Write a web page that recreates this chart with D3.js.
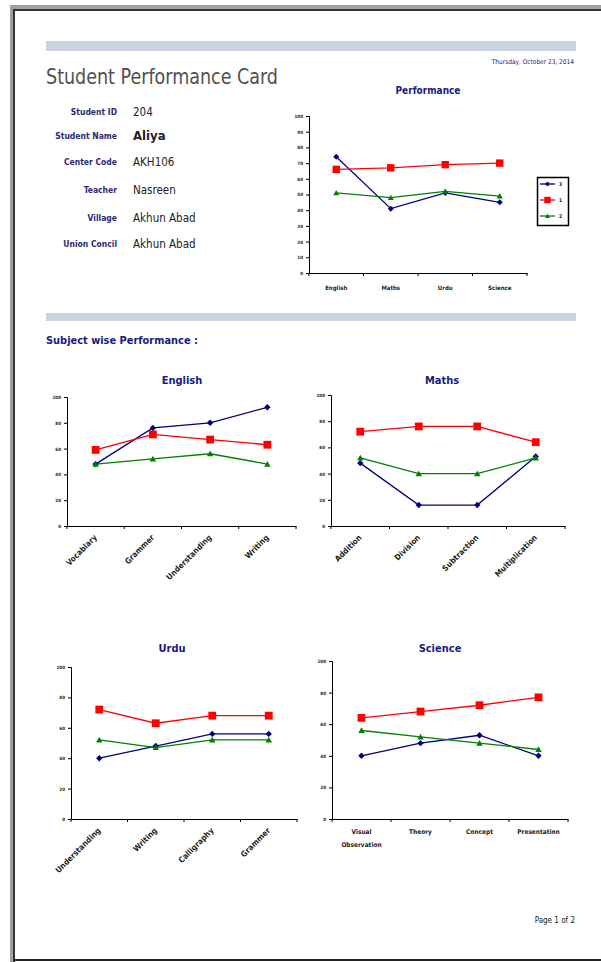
<!DOCTYPE html>
<html><head><meta charset="utf-8">
<script src="https://cdn.jsdelivr.net/npm/d3@7"></script>
<style>
html,body{margin:0;padding:0;background:#fff;}
svg{display:block;}
text{font-family:"DejaVu Sans Condensed","DejaVu Sans",sans-serif;}
</style></head>
<body>
<script>
// ---------- data ----------
const reportDate = "Thursday, October 23, 2014";
const reportTitle = "Student Performance Card";
const infoLabels = ["Student ID","Student Name","Center Code","Teacher","Village","Union Concil"];
const infoValues = ["204","Aliya","AKH106","Nasreen","Akhun Abad","Akhun Abad"];
const seriesNames = ["3","1","2"];
const seriesColors = ["#000080","#ff0000","#008000"];

const subjects = ["English","Maths","Urdu","Science"];
const overallBlue  = [74,41,51,45];
const overallRed   = [66,67,69,70];
const overallGreen = [51,48,52,49];

const englishSkills = ["Vocablary","Grammer","Understanding","Writing"];
const englishBlue  = [48,76,80,92];
const englishRed   = [59,71,67,63];
const englishGreen = [48,52,56,48];

const mathsSkills = ["Addition","Division","Subtraction","Multiplication"];
const mathsBlue  = [48,16,16,53];
const mathsRed   = [72,76,76,64];
const mathsGreen = [52,40,40,52];

const urduSkills = ["Understanding","Writing","Calligraphy","Grammer"];
const urduBlue  = [40,48,56,56];
const urduRed   = [72,63,68,68];
const urduGreen = [52,47,52,52];

const scienceSkills = ["Visual Observation","Theory","Concept","Presentation"];
const scienceBlue  = [40,48,53,40];
const scienceRed   = [64,68,72,77];
const scienceGreen = [56,52,48,44];

const ticksOverall = d3.range(0,101,10);
const ticksSubject = d3.range(0,101,20);

// ---------- page ----------
const W=601,H=962;
const svg=d3.select("body").append("svg").attr("width",W).attr("height",H);
const navy="#1a1a80";
// frame
svg.append("rect").attr("x",10).attr("y",5).attr("width",W-10).attr("height",4).attr("fill","#a0a0a0");
svg.append("rect").attr("x",10).attr("y",5).attr("width",4).attr("height",H-5).attr("fill","#a0a0a0");
svg.append("rect").attr("x",13).attr("y",9).attr("width",W-13).attr("height",2).attr("fill","#333");
svg.append("rect").attr("x",13).attr("y",9).attr("width",2).attr("height",H-9).attr("fill","#333");
svg.append("rect").attr("x",13).attr("y",959).attr("width",W-13).attr("height",2).attr("fill","#222");

// bands
[[41,10],[313,8]].forEach(([y,h])=>svg.append("rect").attr("x",46).attr("y",y).attr("width",530).attr("height",h).attr("fill","#cbd0e3"));

svg.append("text").attr("x",574).attr("y",64).attr("text-anchor","end").attr("font-size",6.5).attr("fill",navy).text(reportDate);
svg.append("text").attr("x",46).attr("y",84).attr("font-size",22).attr("fill","#505050")
  .attr("textLength",232).attr("lengthAdjust","spacingAndGlyphs").text(reportTitle);

const infoY=[115,139,165,193,221,247];
infoLabels.forEach((l,i)=>{
  svg.append("text").attr("x",117).attr("y",infoY[i]).attr("text-anchor","end").attr("font-size",8.5)
    .attr("font-weight","bold").attr("fill","#2a2a70").text(l);
  svg.append("text").attr("x",133).attr("y",infoY[i]+1).attr("font-size",i===1?13:11.5)
    .attr("font-weight",i===1?"bold":"normal").attr("fill","#222").text(infoValues[i]);
});

svg.append("text").attr("x",46).attr("y",344).attr("font-size",10.5).attr("font-weight","bold")
  .attr("fill",navy).attr("textLength",152).attr("lengthAdjust","spacingAndGlyphs").text("Subject wise Performance :");

svg.append("text").attr("x",575).attr("y",923).attr("text-anchor","end").attr("font-size",8).attr("fill","#222").text("Page 1 of 2");

// ---------- chart helper ----------
function markers(g,kind,pts,color,s){
  if(kind===0){ // diamond
    g.selectAll(null).data(pts).enter().append("path")
      .attr("d",d=>`M${d[0]},${d[1]-s}L${d[0]+s},${d[1]}L${d[0]},${d[1]+s}L${d[0]-s},${d[1]}Z`).attr("fill",color);
  } else if(kind===1){
    g.selectAll(null).data(pts).enter().append("rect")
      .attr("x",d=>d[0]-s).attr("y",d=>d[1]-s).attr("width",2*s).attr("height",2*s).attr("fill",color);
  } else {
    g.selectAll(null).data(pts).enter().append("path")
      .attr("d",d=>`M${d[0]},${d[1]-s}L${d[0]+s},${d[1]+s*0.8}L${d[0]-s},${d[1]+s*0.8}Z`).attr("fill",color);
  }
}

function drawChart(o){
  const g=svg.append("g");
  const x=d3.scaleBand().domain(o.cats).range([o.x0,o.x1]);
  const y=d3.scaleLinear().domain([0,100]).range([o.yB,o.yT]);
  g.append("text").attr("x",o.tx).attr("y",o.ty).attr("text-anchor","middle").attr("font-size",o.tfs)
    .attr("font-weight","bold").attr("fill",navy).text(o.title);
  // axes
  const ya=d3.axisLeft(y).tickValues(o.ticks).tickSize(3).tickFormat(d3.format("d"));
  const gy=g.append("g").attr("transform",`translate(${o.x0},0)`).call(ya);
  gy.selectAll("text").attr("font-size",o.yfs).attr("font-weight","bold").attr("fill","#222").attr("x",-6);
  gy.select(".domain").attr("stroke","#000");
  const xa=d3.axisBottom(x).tickSize(0).tickFormat("");
  const gx=g.append("g").attr("transform",`translate(0,${o.yB})`).call(xa);
  gx.select(".domain").attr("stroke","#000");
  const bnds=o.cats.map(c=>x(c)).concat([o.x1]);
  g.selectAll(null).data(bnds).enter().append("line").attr("x1",d=>d).attr("x2",d=>d)
    .attr("y1",o.yB).attr("y2",o.yB+3).attr("stroke","#000");
  // labels
  o.cats.forEach((c,i)=>{
    const cx=x(c)+x.bandwidth()/2;
    if(o.rot){
      g.append("text").attr("transform",`translate(${cx+2},${o.yB+12}) rotate(-45)`).attr("text-anchor","end")
        .attr("font-size",o.xfs).attr("font-weight","bold").attr("fill","#222").text(c);
    } else {
      const parts=c.split(" ");
      parts.forEach((p,j)=>g.append("text").attr("x",cx).attr("y",o.yB+o.xdy+j*13).attr("text-anchor","middle")
        .attr("font-size",o.xfs).attr("font-weight","bold").attr("fill","#222").text(p));
    }
  });
  // series
  o.series.forEach((vals,k)=>{
    const pts=vals.map((v,i)=>[x(o.cats[i])+x.bandwidth()/2,y(v)]);
    g.append("path").attr("d",d3.line()(pts)).attr("fill","none").attr("stroke",seriesColors[k]).attr("stroke-width",1.3);
  });
  o.series.forEach((vals,k)=>{
    const pts=vals.map((v,i)=>[x(o.cats[i])+x.bandwidth()/2,y(v)]);
    markers(g,k,pts,seriesColors[k],k===1?o.ms+0.7:o.ms);
  });
  return g;
}

// top chart
drawChart({cats:subjects,series:[overallBlue,overallRed,overallGreen],x0:309,x1:527,yT:116,yB:273,
  ticks:ticksOverall,title:"Performance",tx:428,ty:94,tfs:10,yfs:4.5,xfs:6,xdy:17,rot:false,ms:3});
// legend
const lg=svg.append("g");
lg.append("rect").attr("x",537.5).attr("y",177.5).attr("width",31).attr("height",48).attr("fill","#fff").attr("stroke","#000").attr("stroke-width",1.5);
seriesNames.forEach((n,k)=>{
  const ly=184+k*16;
  lg.append("line").attr("x1",540).attr("x2",555).attr("y1",ly).attr("y2",ly).attr("stroke",seriesColors[k]).attr("stroke-width",1.3);
  markers(lg,k,[[547.5,ly]],seriesColors[k],k===1?3.2:2.5);
  lg.append("text").attr("x",559).attr("y",ly+2).attr("font-size",5).attr("font-weight","bold").attr("fill","#222").text(n);
});

drawChart({cats:englishSkills,series:[englishBlue,englishRed,englishGreen],x0:67,x1:296,yT:397,yB:526,
  ticks:ticksSubject,title:"English",tx:182,ty:384,tfs:11,yfs:4.5,xfs:8,rot:true,ms:3.2});
drawChart({cats:mathsSkills,series:[mathsBlue,mathsRed,mathsGreen],x0:331,x1:565,yT:395,yB:526,
  ticks:ticksSubject,title:"Maths",tx:442,ty:384,tfs:11,yfs:4.5,xfs:8,rot:true,ms:3.2});
drawChart({cats:urduSkills,series:[urduBlue,urduRed,urduGreen],x0:71,x1:297,yT:667,yB:819,
  ticks:ticksSubject,title:"Urdu",tx:172,ty:652,tfs:11,yfs:4.5,xfs:8,rot:true,ms:3.2});
drawChart({cats:scienceSkills,series:[scienceBlue,scienceRed,scienceGreen],x0:332,x1:568,yT:661,yB:819,
  ticks:ticksSubject,title:"Science",tx:440,ty:652,tfs:11,yfs:4.5,xfs:6.5,xdy:15,rot:false,ms:3.2});
</script>
</body></html>
